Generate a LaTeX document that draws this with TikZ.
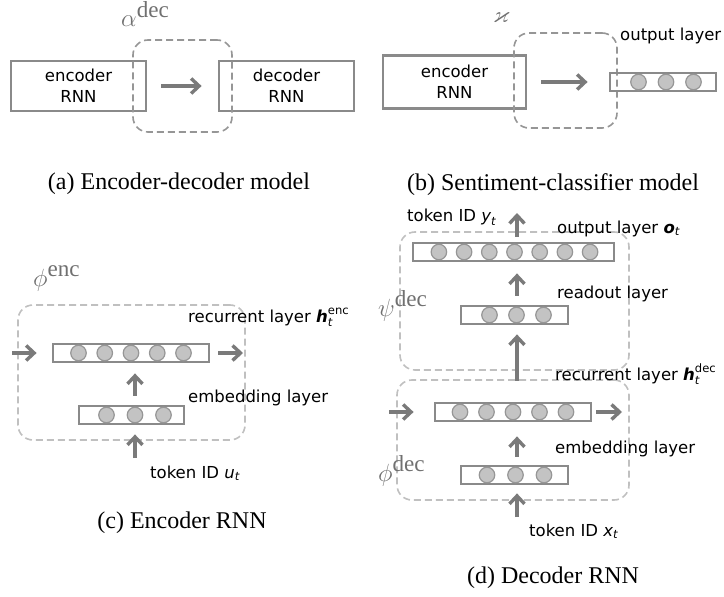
\documentclass[tikz,border=0pt]{standalone}
\usepackage{amsmath,amssymb}
\usepackage{fontspec}
\setmainfont{Liberation Serif}
\setsansfont{DejaVu Sans}
\usetikzlibrary{arrows.meta}
\definecolor{boxgray}{RGB}{138,138,138}
\definecolor{arrgray}{RGB}{122,122,122}
\definecolor{unitfill}{RGB}{195,195,195}
\definecolor{unitline}{RGB}{150,150,150}
\definecolor{dashA}{RGB}{150,150,150}
\definecolor{dashC}{RGB}{192,192,192}
\definecolor{mathgray}{RGB}{112,112,112}
\newcommand\lblfont{\sffamily\fontsize{16.5}{21}\selectfont}
\newcommand\mklayer[7]{%
  \node[layerbox, minimum width=#4pt] (#1) at (#2,#3) {};
  \foreach \k in {1,...,#5}{\node[unit] (#1-\k) at ({#7+(\k-(#5+1)/2)*#6},#3) {};}
}
\begin{document}
\begin{tikzpicture}[x=1pt,y=-1pt,
  bigbox/.style={draw=boxgray, line width=2.8pt, inner sep=0pt, font=\lblfont, align=center},
  layerbox/.style={draw=boxgray, line width=2.8pt, minimum height=18pt, inner sep=0pt},
  unit/.style={circle, draw=unitline, fill=unitfill, line width=1.2pt, minimum size=15.5pt, inner sep=0pt},
  arr/.style={draw=arrgray, line width=3.4pt, -{Straight Barb[length=8pt,width=15pt]}},
  grpA/.style={draw=dashA, dash pattern=on 7pt off 4pt, line width=1.6pt, rounded corners=15pt, inner sep=0pt},
  grpC/.style={draw=dashC, dash pattern=on 7pt off 4pt, line width=1.6pt, rounded corners=15pt, inner sep=0pt},
  lbl/.style={font=\lblfont, inner sep=0pt, anchor=base west},
  mlbl/.style={font=\fontsize{33}{33}\selectfont, text=mathgray, inner sep=0pt, anchor=base west},
  captxt/.style={font=\fontsize{24}{28}\selectfont, inner sep=0pt, anchor=base}
]
\useasboundingbox (0,0) rectangle (724,597);

% ---------- (a) ----------
\node[bigbox, minimum width=135pt, minimum height=50pt] (encA) at (78.5,86) {encoder\\RNN};
\node[bigbox, minimum width=135pt, minimum height=50pt] (decA) at (286.5,86) {decoder\\RNN};
\node[grpA, minimum width=99pt, minimum height=92pt] (grpA) at (182.5,86) {};
\draw[arr, shorten <=14pt, shorten >=16pt] (encA) -- (decA);
\node[mlbl] (alphaA) at (121,27) {$\alpha^{\text{dec}}$};
\node[captxt] (capA) at (179,189) {(a) Encoder-decoder model};

% ---------- (b) ----------
\node[bigbox, minimum width=143pt, minimum height=53pt] (encB) at (454.5,82) {encoder\\RNN};
\node[grpA, minimum width=103pt, minimum height=95pt] (grpB) at (565.5,80.5) {};
\mklayer{outB}{663}{82}{106}{3}{27.5}{666}
\draw[arr, shorten <=14pt, shorten >=21pt] (encB) -- (outB);
\node[lbl] (outBl) at (620,41) {output layer};
\node[mlbl, font=\fontsize{23}{23}\selectfont] (kapB) at (493,23) {$\varkappa$};
\node[captxt] (capB) at (553,190) {(b) Sentiment-classifier model};

% ---------- (c) ----------
\node[grpC, minimum width=227pt, minimum height=135pt] (grpC) at (131.5,372.5) {};
\mklayer{recC}{131}{353}{156}{5}{26.25}{131}
\mklayer{embC}{131.5}{415}{105}{3}{28.5}{135}
\coordinate (inC) at (12,353);
\coordinate (outC) at (243,353);
\coordinate (tokC) at (135,458);
\draw[arr, shorten >=15pt] (inC) -- (recC.west);
\draw[arr, shorten <=8pt] (recC.east) -- (outC);
\draw[arr, shorten <=9pt, shorten >=10pt] (embC-2 |- embC.north) -- (embC-2 |- recC.south);
\draw[arr, shorten >=9pt] (tokC) -- (tokC |- embC.south);
\node[mlbl] (phiC) at (33,286) {$\phi^{\text{enc}}$};
\node[lbl] (recCl) at (188,322) {recurrent layer $\text{\bfseries\itshape h}_{\text{\itshape t}}^{\text{enc}}$};
\node[lbl] (embCl) at (188,402) {embedding layer};
\node[lbl] (tokCl) at (150,478) {token ID $\text{\itshape u}_{\text{\itshape t}}$};
\node[captxt] (capC) at (182,528) {(c) Encoder RNN};

% ---------- (d) ----------
\node[grpC, minimum width=229pt, minimum height=138pt] (grpPsi) at (514.5,301) {};
\node[grpC, minimum width=232pt, minimum height=120pt] (grpPhi) at (513,440) {};
\mklayer{outD}{513.5}{252}{201}{7}{25.2}{514.5}
\mklayer{readD}{514.5}{315}{107}{3}{27}{516.5}
\mklayer{recD}{513}{412}{156}{5}{26.5}{513}
\mklayer{embD}{514.5}{475}{107}{3}{28.5}{515.5}
\coordinate (topD) at (517,213);
\coordinate (inD) at (389,412);
\coordinate (outD2) at (622,412);
\coordinate (tokD) at (517,517);
\draw[arr, shorten <=5pt] (topD |- outD.north) -- (topD);
\draw[arr, shorten <=9pt, shorten >=11pt] (topD |- readD.north) -- (topD |- outD.south);
\draw[arr, shorten <=21pt, shorten >=9pt] (topD |- recD.north) -- (topD |- readD.south);
\draw[arr, shorten <=8pt, shorten >=14pt] (topD |- embD.north) -- (topD |- recD.south);
\draw[arr, shorten >=8pt] (tokD) -- (tokD |- embD.south);
\draw[arr, shorten >=20pt] (inD) -- (recD.west);
\draw[arr, shorten <=4pt] (recD.east) -- (outD2);
\node[lbl] (tokYl) at (407,221) {token ID $\text{\itshape y}_{\text{\itshape t}}$};
\node[lbl] (outDl) at (557,233) {output layer $\text{\bfseries\itshape o}_{\text{\itshape t}}$};
\node[lbl] (readDl) at (557,298) {readout layer};
\node[lbl] (recDl) at (555,380) {recurrent layer $\text{\bfseries\itshape h}_{\text{\itshape t}}^{\text{dec}}$};
\node[lbl] (embDl) at (555,453) {embedding layer};
\node[lbl] (tokXl) at (529,536) {token ID $\text{\itshape x}_{\text{\itshape t}}$};
\node[mlbl] (psiD) at (378,316) {$\psi^{\text{dec}}$};
\node[mlbl] (phiD) at (378,481) {$\phi^{\text{dec}}$};
\node[captxt] (capD) at (553,583) {(d) Decoder RNN};
\end{tikzpicture}
\end{document}
